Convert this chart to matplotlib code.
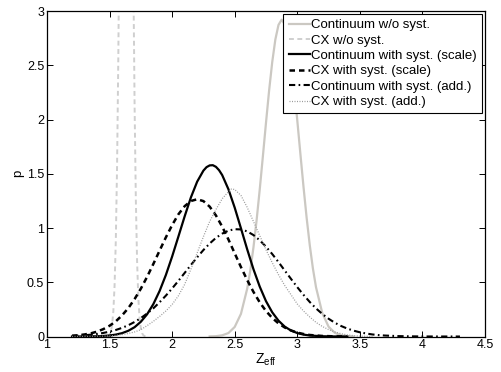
import matplotlib
matplotlib.use('Agg')
import matplotlib.pyplot as plt
from matplotlib.ticker import FormatStrFormatter

plt.rcParams['font.family'] = ['Liberation Sans', 'DejaVu Sans']
plt.rcParams['mathtext.fontset'] = 'custom'
plt.rcParams['mathtext.rm'] = 'Liberation Sans'

# Continuum w/o syst.
cont_nosyst_x = [2.30, 2.35, 2.40, 2.45, 2.50, 2.55, 2.60, 2.625, 2.65, 2.675, 2.70, 2.725, 2.75, 2.775,
                 2.80, 2.825, 2.85, 2.875, 2.90, 2.925, 2.95, 2.975, 3.00, 3.025, 3.05, 3.075, 3.10,
                 3.125, 3.15, 3.20, 3.25, 3.30, 3.35, 3.40, 3.45]
cont_nosyst_p = [0.001, 0.003, 0.011, 0.032, 0.088, 0.209, 0.441, 0.612, 0.822, 1.071, 1.354, 1.658, 1.969,
                 2.267, 2.530, 2.738, 2.872, 2.920, 2.879, 2.751, 2.549, 2.290, 1.994, 1.683, 1.378, 1.093,
                 0.841, 0.627, 0.453, 0.216, 0.091, 0.034, 0.011, 0.003, 0.001]

# CX w/o syst.
cx_nosyst_x = [1.48, 1.49, 1.50, 1.51, 1.52, 1.53, 1.54, 1.55, 1.56, 1.57, 1.58, 1.59, 1.60, 1.61, 1.62,
               1.63, 1.64, 1.65, 1.66, 1.67, 1.68, 1.69, 1.70, 1.71, 1.72, 1.73, 1.74, 1.75, 1.76, 1.77,
               1.78, 1.79]
cx_nosyst_p = [0.002, 0.006, 0.017, 0.044, 0.104, 0.228, 0.467, 0.889, 1.571, 2.58, 3.94, 5.60, 7.39, 9.07,
               10.34, 10.96, 10.80, 9.90, 8.43, 6.67, 4.91, 3.36, 2.13, 1.262, 0.693, 0.354, 0.168, 0.074,
               0.030, 0.012, 0.004, 0.001]

# Continuum with syst. (scale)
cont_scale_x = [1.20, 1.30, 1.40, 1.45, 1.50, 1.55, 1.60, 1.65, 1.70, 1.75, 1.80, 1.85, 1.90, 1.95, 2.00,
                2.05, 2.10, 2.15, 2.20, 2.25, 2.275, 2.30, 2.325, 2.35, 2.375, 2.40, 2.45, 2.50, 2.55,
                2.60, 2.65, 2.70, 2.75, 2.80, 2.85, 2.90, 2.95, 3.00, 3.05, 3.10, 3.20, 3.30, 3.40]
cont_scale_p = [0.0001, 0.0006, 0.0025, 0.005, 0.0095, 0.0175, 0.031, 0.053, 0.086, 0.136, 0.205, 0.299,
                0.420, 0.567, 0.737, 0.921, 1.107, 1.282, 1.427, 1.529, 1.561, 1.577, 1.579, 1.564, 1.533,
                1.488, 1.357, 1.188, 0.997, 0.803, 0.620, 0.460, 0.326, 0.223, 0.146, 0.091, 0.055, 0.032,
                0.0175, 0.0093, 0.0023, 0.0005, 0.0001]

# CX with syst. (scale)
cx_scale_x = [1.20, 1.25, 1.30, 1.35, 1.40, 1.45, 1.50, 1.55, 1.60, 1.65, 1.70, 1.75, 1.80, 1.85, 1.90,
              1.95, 2.00, 2.05, 2.10, 2.15, 2.20, 2.25, 2.30, 2.35, 2.40, 2.45, 2.50, 2.55, 2.60, 2.65,
              2.70, 2.75, 2.80, 2.85, 2.90, 2.95, 3.00, 3.05, 3.10, 3.20, 3.30, 3.40]
cx_scale_p = [0.007, 0.0115, 0.019, 0.029, 0.045, 0.068, 0.099, 0.140, 0.195, 0.262, 0.345, 0.441, 0.550,
              0.669, 0.792, 0.914, 1.027, 1.126, 1.201, 1.249, 1.265, 1.248, 1.197, 1.116, 1.013, 0.894,
              0.767, 0.640, 0.520, 0.411, 0.315, 0.235, 0.171, 0.121, 0.083, 0.056, 0.036, 0.023, 0.014,
              0.005, 0.0015, 0.0004]

# Continuum with syst. (add.)
cont_add_x = [1.20, 1.25, 1.30, 1.35, 1.40, 1.45, 1.50, 1.55, 1.60, 1.65, 1.70, 1.75, 1.80, 1.85, 1.90,
              1.95, 2.00, 2.05, 2.10, 2.15, 2.20, 2.25, 2.30, 2.35, 2.40, 2.45, 2.50, 2.55, 2.60, 2.65,
              2.70, 2.75, 2.80, 2.85, 2.90, 2.95, 3.00, 3.05, 3.10, 3.15, 3.20, 3.25, 3.30, 3.35, 3.40,
              3.45, 3.50, 3.55, 3.60, 3.65, 3.70, 3.80, 3.90, 4.00, 4.10, 4.20, 4.30]
cont_add_p = [0.0056, 0.0082, 0.0118, 0.0169, 0.0238, 0.0329, 0.0448, 0.0602, 0.0799, 0.104, 0.134, 0.170,
              0.212, 0.260, 0.316, 0.377, 0.443, 0.513, 0.586, 0.659, 0.730, 0.797, 0.857, 0.909, 0.948,
              0.976, 0.989, 0.987, 0.969, 0.935, 0.887, 0.828, 0.760, 0.686, 0.608, 0.531, 0.455, 0.384,
              0.318, 0.259, 0.208, 0.164, 0.127, 0.097, 0.073, 0.054, 0.039, 0.028, 0.019, 0.013, 0.009,
              0.004, 0.0016, 0.0006, 0.0002, 0.0001, 0.0]

# CX with syst. (add.)
cx_add_x = [1.20, 1.30, 1.40, 1.45, 1.50, 1.55, 1.60, 1.65, 1.70, 1.75, 1.80, 1.85, 1.90, 1.95, 2.00,
            2.05, 2.10, 2.15, 2.20, 2.25, 2.30, 2.35, 2.40, 2.45, 2.475, 2.50, 2.55, 2.60, 2.65, 2.70,
            2.75, 2.80, 2.85, 2.90, 2.95, 3.00, 3.05, 3.10, 3.15, 3.20, 3.25, 3.30, 3.35, 3.40, 3.45,
            3.50, 3.60]
cx_add_p = [0.0005, 0.001, 0.002, 0.003, 0.005, 0.010, 0.018, 0.028, 0.042, 0.063, 0.100, 0.140, 0.185,
            0.235, 0.295, 0.375, 0.480, 0.620, 0.770, 0.920, 1.060, 1.170, 1.270, 1.335, 1.360, 1.355,
            1.300, 1.190, 1.060, 0.930, 0.800, 0.680, 0.570, 0.470, 0.385, 0.300, 0.235, 0.180, 0.130,
            0.093, 0.064, 0.042, 0.026, 0.015, 0.008, 0.004, 0.001]

labels = ['Continuum w/o syst.', 'CX w/o syst.', 'Continuum with syst. (scale)',
          'CX with syst. (scale)', 'Continuum with syst. (add.)', 'CX with syst. (add.)']
x_ticks = [1, 1.5, 2, 2.5, 3, 3.5, 4, 4.5]
y_ticks = [0, 0.5, 1, 1.5, 2, 2.5, 3]

fig = plt.figure(figsize=(5.01, 3.72), dpi=100)
ax = fig.add_axes([0.0938, 0.0954, 0.8742, 0.8750])

ax.plot(cont_nosyst_x, cont_nosyst_p, color='#cbc8c2', lw=1.6, label=labels[0])
ax.plot(cx_nosyst_x, cx_nosyst_p, color='#cfcfcf', lw=1.4, dashes=(2.5, 1.8), label=labels[1])
ax.plot(cont_scale_x, cont_scale_p, color='black', lw=1.6, label=labels[2])
ax.plot(cx_scale_x, cx_scale_p, color='black', lw=1.8, dashes=(2.2, 1.6), label=labels[3])
ax.plot(cont_add_x, cont_add_p, color='black', lw=1.5, dashes=(3.0, 1.6, 0.8, 1.6), label=labels[4])
ax.plot(cx_add_x, cx_add_p, color='#999999', lw=0.9, dashes=(0.8, 1.2), label=labels[5])

ax.set_xlim(1, 4.5)
ax.set_ylim(0, 3)
ax.set_xticks(x_ticks)
ax.set_yticks(y_ticks)
ax.xaxis.set_major_formatter(FormatStrFormatter('%g'))
ax.yaxis.set_major_formatter(FormatStrFormatter('%g'))
ax.tick_params(direction='in', top=True, right=True, length=4, width=0.7, labelsize=9, pad=2)
for s in ax.spines.values():
    s.set_linewidth(0.9)

ax.set_xlabel(r'$\mathregular{Z_{eff}}$', fontsize=10, labelpad=0)
ax.set_ylabel('p', fontsize=9.5, labelpad=2)

leg = ax.legend(loc='upper right', fontsize=9.5, frameon=True, fancybox=False, framealpha=1,
                edgecolor='black', borderaxespad=0.2, handlelength=1.6, handletextpad=0.12,
                labelspacing=0.24, borderpad=0.4)
leg.get_frame().set_linewidth(0.8)

fig.savefig('out.png', dpi=100)
